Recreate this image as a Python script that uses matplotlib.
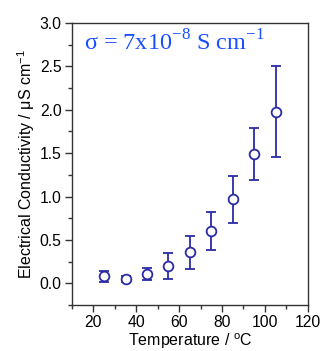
import matplotlib
matplotlib.use("Agg")
import matplotlib.pyplot as plt
from matplotlib.ticker import MultipleLocator

temperature = [25, 35, 45, 55, 65, 75, 85, 95, 105]
conductivity = [0.08, 0.05, 0.11, 0.20, 0.36, 0.60, 0.97, 1.49, 1.98]
error = [0.06, 0.03, 0.07, 0.15, 0.19, 0.22, 0.27, 0.30, 0.53]

plt.rcParams['font.family'] = ['Liberation Sans', 'DejaVu Sans']
plt.rcParams['mathtext.fontset'] = 'custom'
plt.rcParams['mathtext.rm'] = 'Liberation Serif'
plt.rcParams['mathtext.sf'] = 'Liberation Sans'

fig = plt.figure(figsize=(3.21, 3.51), dpi=100)
ax = fig.add_axes([72/321, 1-305/351, (307.7-72)/321, (305-23)/351])

col = '#2b2ba6'
ax.errorbar(temperature, conductivity, yerr=error, fmt='o', mfc='white', mec=col,
            ecolor=col, color=col, ms=7, mew=1.3, elinewidth=1.3, capsize=3.5, capthick=1.3)

ax.set_xlim(10, 120)
ax.set_ylim(-0.25, 3.0)
ax.xaxis.set_major_locator(MultipleLocator(20))
ax.xaxis.set_minor_locator(MultipleLocator(10))
ax.yaxis.set_major_locator(MultipleLocator(0.5))
ax.yaxis.set_minor_locator(MultipleLocator(0.25))
ax.tick_params(which='both', direction='out', top=False, right=False, labelsize=11.3, color='#333333')
ax.tick_params(which='major', length=5, width=1, pad=2.5)
ax.tick_params(which='minor', length=3, width=1)
for s in ax.spines.values():
    s.set_color('#333333')
    s.set_linewidth(1)

ax.set_xlabel('Temperature / $^{\\mathsf{o}}$C', fontsize=11.5, labelpad=1)
ax.set_ylabel('Electrical Conductivity / \u03bcS cm$^{\\mathsf{-1}}$', fontsize=11.5, labelpad=2)

ax.text(0.05, 0.975, '\u03c3 = 7x10$^{\\mathrm{-8}}$ S cm$^{\\mathrm{-1}}$', transform=ax.transAxes,
        ha='left', va='top', fontsize=17.5, color='#1a4fff', family=['Liberation Serif', 'DejaVu Serif'])

fig.savefig('out.png', dpi=100)
